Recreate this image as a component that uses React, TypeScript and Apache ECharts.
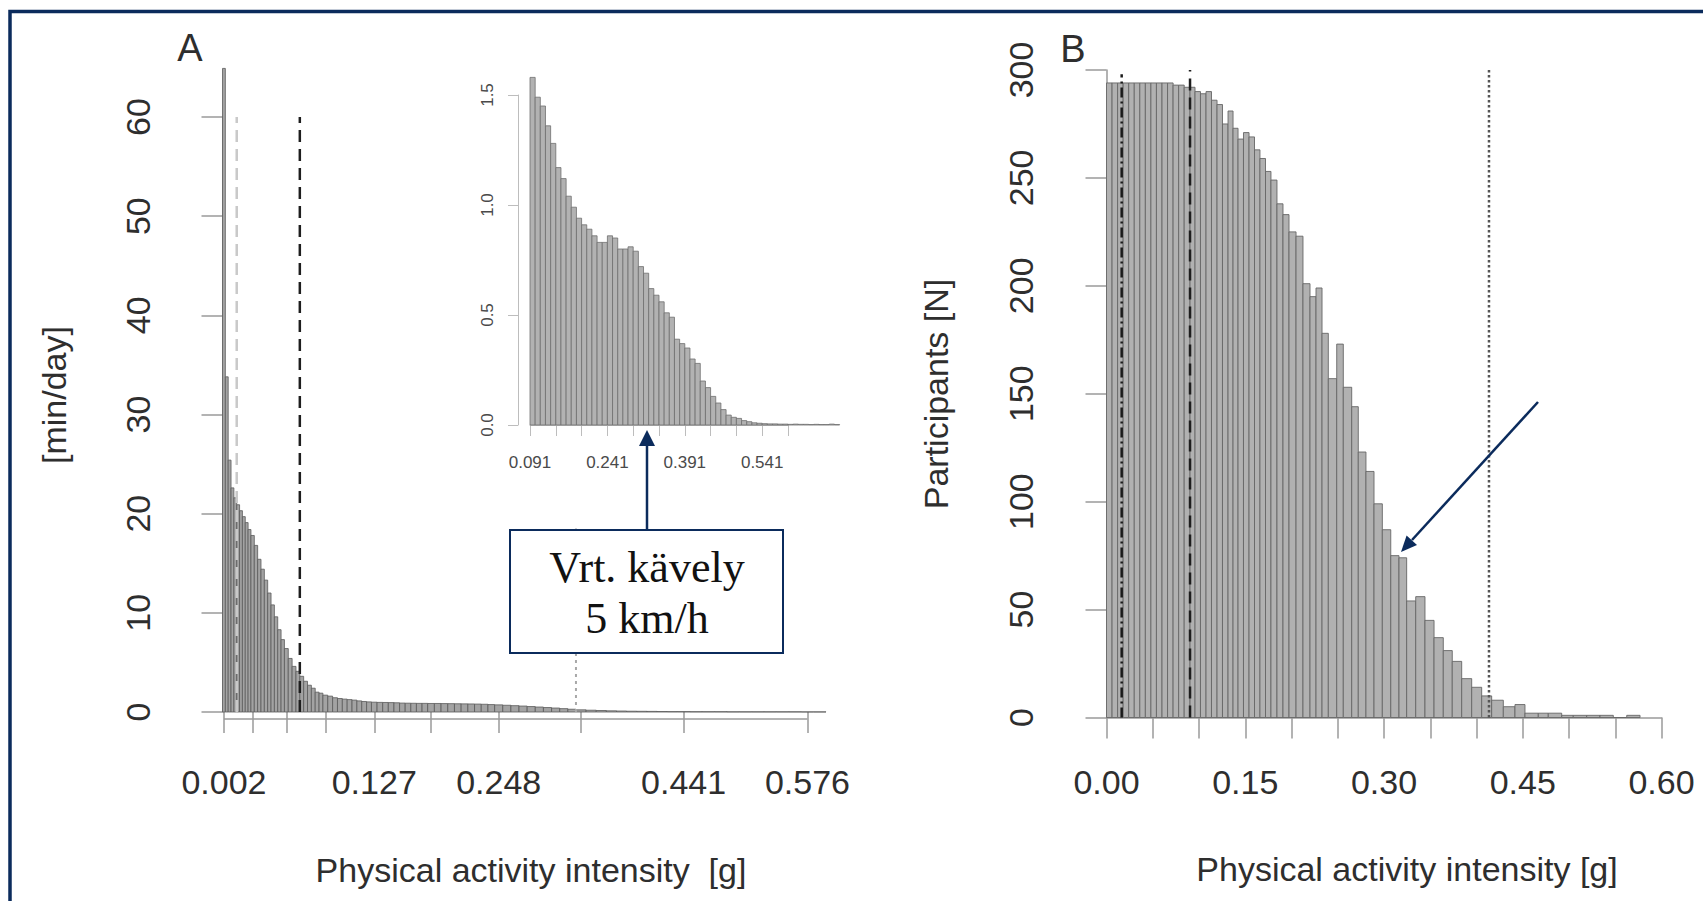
import React, { useEffect, useRef } from "react";
import * as echarts from "echarts";

// ---------------- Panel A (main histogram, bars widen to the right) ----------------
const aGroupWidths = [0.85, 1.0, 1.15, 1.45, 1.68, 2.0, 2.43, 3.03, 3.7, 3.7]; // bar width per group of 10 bars
const aMinutes = [
  64.9, 33.8, 25.4, 22.6, 21.6, 20.9, 20.3, 19.7, 19.1, 18.4,
  17.8, 16.8, 15.4, 14.4, 13.3, 12.0, 10.8, 9.6, 8.3, 7.3,
  6.4, 5.4, 4.6, 4.1, 3.6, 3.1, 2.7, 2.4, 2.0, 1.9,
  1.7, 1.6, 1.44, 1.36, 1.3, 1.25, 1.2, 1.12, 1.06, 1.02,
  0.99, 0.97, 0.96, 0.95, 0.93, 0.9, 0.89, 0.88, 0.87, 0.87,
  0.86, 0.86, 0.85, 0.84, 0.83, 0.82, 0.81, 0.8, 0.78, 0.75,
  0.72, 0.68, 0.64, 0.6, 0.55, 0.5, 0.45, 0.4, 0.34, 0.28,
  0.22, 0.18, 0.15, 0.12, 0.1, 0.08, 0.07, 0.06, 0.05, 0.04,
  0.04, 0.03, 0.03, 0.03, 0.02, 0.02, 0.02, 0.02, 0.02, 0.02,
  0.01, 0.01,
];
const aTickBars = [0, 10, 20, 30, 40, 50, 60, 70, 80, 90];
const aLabelBars = [0, 40, 60, 80, 90];
const aLabelTexts = ["0.002", "0.127", "0.248", "0.441", "0.576"];
const aRefBars = [5, 24, 70]; // reference lines at the left edge of these bars
const aRefTops = [60, 60, 18.5];

// ---------------- Panel A inset ----------------
const insetStart = 0.091;
const insetBin = 0.01;
const insetValues = [
  1.58, 1.49, 1.45, 1.36, 1.28, 1.17, 1.12, 1.04, 0.99, 0.94,
  0.91, 0.89, 0.86, 0.83, 0.83, 0.86, 0.85, 0.8, 0.8, 0.81,
  0.79, 0.72, 0.69, 0.62, 0.59, 0.56, 0.51, 0.49, 0.39, 0.37,
  0.35, 0.3, 0.28, 0.2, 0.17, 0.13, 0.1, 0.07, 0.045, 0.035,
  0.03, 0.02, 0.015, 0.01, 0.008, 0.006, 0.005, 0.005, 0.004, 0.004,
  0.003, 0.004, 0.003, 0.003, 0.002, 0.003, 0.002, 0.002, 0.004, 0.002,
];
const insetTicks = [0.091, 0.141, 0.191, 0.241, 0.291, 0.341, 0.391, 0.441, 0.491, 0.541, 0.591];
const insetLabels = [0.091, 0.241, 0.391, 0.541];

// ---------------- Panel B ----------------
const bEdges = [
  0, 0.006, 0.012, 0.018, 0.024, 0.03, 0.036, 0.042, 0.048, 0.054, 0.06, 0.066, 0.072, 0.078, 0.084,
  0.0903, 0.0957, 0.1016, 0.1076, 0.1135, 0.1195, 0.1254, 0.1314, 0.1368, 0.1422, 0.1481, 0.1541,
  0.16, 0.1659, 0.1719, 0.1778, 0.1843, 0.1908, 0.1973, 0.2049, 0.2124, 0.22, 0.2265, 0.233, 0.2398,
  0.2489, 0.256, 0.2651, 0.2722, 0.2805, 0.2892, 0.2982, 0.3073, 0.3162, 0.3245, 0.3343, 0.3443,
  0.3541, 0.3641, 0.3738, 0.384, 0.3948, 0.4056, 0.4164, 0.429, 0.4416, 0.4524, 0.4668, 0.4776,
  0.4921, 0.5046, 0.5191, 0.5335, 0.5479, 0.5624, 0.5768,
];
const bCounts = [
  294, 294, 294, 294, 294, 294, 294, 294, 294, 294, 294, 294, 293, 293, 292,
  292, 290, 289, 290, 286, 284, 275, 281, 273, 268, 271,
  269, 263, 259, 253, 249, 238, 233, 225, 223, 201, 195, 199, 178,
  157, 173, 153, 144, 123, 114, 99, 87, 75, 74, 54,
  56, 45, 37, 31, 26, 18, 14, 10, 8, 5, 6, 2, 2,
  2, 1, 1, 1, 1, 0, 1,
];
const bRefLines = [0.0164, 0.0903, 0.4135];
const bXTicks = [0, 0.05, 0.1, 0.15, 0.2, 0.25, 0.3, 0.35, 0.4, 0.45, 0.5, 0.55, 0.6];
const bXLabels = [0, 0.15, 0.3, 0.45, 0.6];

// ---------------- derived layout from data ----------------
const aWidths = aMinutes.map((_, i) => aGroupWidths[Math.floor(i / 10)]);
const aEdges: number[] = [0];
aWidths.forEach((w, i) => aEdges.push(aEdges[i] + w));
const aTotal = aEdges[aEdges.length - 1];
const aCenters = aMinutes.map((_, i) => (aEdges[i] + aEdges[i + 1]) / 2);
const aTickPos = aTickBars.map((b) => aCenters[b]);
const aLabelPos = aLabelBars.map((b) => aCenters[b]);

const navy = "#0b2b5c";
const font = "'Liberation Sans', Arial, Helvetica, sans-serif";
const axisGrey = "#9a9a9a";
const labelCol = "#2e2e2e";

function rectRenderer(fill: string, stroke: string, lw: number) {
  return (params: any, api: any) => {
    const x0 = api.value(0);
    const x1 = api.value(1);
    const v = api.value(2);
    const a = api.coord([x0, v]);
    const b = api.coord([x1, 0]);
    return {
      type: "rect",
      shape: { x: a[0], y: a[1], width: b[0] - a[0], height: b[1] - a[1] },
      style: { fill, stroke, lineWidth: lw },
    };
  };
}

function vline(xAxisIndex: number, x: number, top: number, color: string, type: any, width: number) {
  return {
    type: "line",
    xAxisIndex,
    yAxisIndex: xAxisIndex,
    data: [[x, 0], [x, top]],
    symbol: "none",
    silent: true,
    z: 5,
    lineStyle: { color, type, width },
  };
}

function staticGraphics(aAxisLine: number[] | null) {
  const g: any[] = [];
  g.push({
    type: "rect",
    z: 100,
    silent: true,
    shape: { x: 10, y: 11.5, width: 1800, height: 1000 },
    style: { fill: "none", stroke: navy, lineWidth: 3.5 },
  });
  const txt = (text: string, x: number, y: number, size: number, rot = 0, family = font, fill = labelCol) => ({
    type: "text",
    x,
    y,
    rotation: rot,
    silent: true,
    z: 50,
    style: { text, fontSize: size, fontFamily: family, fill, align: "center", verticalAlign: "middle" },
  });
  g.push(txt("A", 190, 48, 38));
  g.push(txt("B", 1073, 49, 38));
  g.push(txt("[min/day]", 54, 395, 34, Math.PI / 2));
  g.push(txt("Participants [N]", 936, 394, 34, Math.PI / 2));
  g.push(txt("Physical activity intensity  [g]", 531, 870, 34));
  g.push(txt("Physical activity intensity [g]", 1407, 869, 34));
  // annotation box (panel A)
  g.push({
    type: "rect",
    z: 60,
    shape: { x: 510, y: 530, width: 273, height: 123 },
    style: { fill: "#ffffff", stroke: navy, lineWidth: 2 },
  });
  g.push(txt("Vrt. kävely", 647, 567, 44, 0, "'Liberation Serif', 'Times New Roman', serif", "#111"));
  g.push(txt("5 km/h", 647, 618, 44, 0, "'Liberation Serif', 'Times New Roman', serif", "#111"));
  g[g.length - 1].z = 61;
  g[g.length - 2].z = 61;
  // arrow A (up into inset)
  g.push({ type: "line", z: 60, shape: { x1: 647, y1: 530, x2: 647, y2: 444 }, style: { stroke: navy, lineWidth: 2.5 } });
  g.push({ type: "polygon", z: 60, shape: { points: [[647, 430], [639, 446], [655, 446]] }, style: { fill: navy } });
  // arrow B
  g.push({ type: "line", z: 60, shape: { x1: 1538, y1: 402, x2: 1412, y2: 540 }, style: { stroke: navy, lineWidth: 2.5 } });
  g.push({ type: "polygon", z: 60, shape: { points: [[1401, 552], [1417, 545], [1406.6, 535.5]] }, style: { fill: navy } });
  if (aAxisLine) {
    g.push({
      type: "line",
      z: 10,
      silent: true,
      shape: { x1: aAxisLine[0], y1: aAxisLine[1], x2: aAxisLine[2], y2: aAxisLine[3] },
      style: { stroke: axisGrey, lineWidth: 1.5 },
    });
  }
  return g;
}

function nearLabel(v: number, pos: number[], texts: string[]) {
  for (let i = 0; i < pos.length; i++) if (Math.abs(pos[i] - v) < 1e-6) return texts[i];
  return "";
}

export default function App() {
  const ref = useRef<HTMLDivElement>(null);
  useEffect(() => {
    if (!ref.current) return;
    const chart = echarts.init(ref.current, undefined, { renderer: "svg" });
    const axisLineStyle = { color: axisGrey, width: 1.5 };
    const insetLine = { color: "#bdbdbd", width: 1 };
    const option: any = {
      animation: false,
      backgroundColor: "#ffffff",
      grid: [
        { left: 222.5, top: 117, width: 603.5, height: 595, outerBoundsMode: "none" },
        { left: 530, top: 95, width: 258, height: 330, outerBoundsMode: "none" },
        { left: 1106.5, top: 70, width: 555, height: 647.5, outerBoundsMode: "none" },
      ],
      xAxis: [
        {
          type: "value",
          gridIndex: 0,
          min: 0,
          max: aTotal,
          offset: 7,
          splitLine: { show: false },
          axisLine: { show: false },
          axisTick: { show: true, length: 21, lineStyle: axisLineStyle, customValues: aTickPos },
          axisLabel: {
            show: true,
            margin: 46,
            fontSize: 34,
            fontFamily: font,
            color: labelCol,
            customValues: aLabelPos,
            formatter: (v: number) => nearLabel(v, aLabelPos, aLabelTexts),
          },
        },
        {
          type: "value",
          gridIndex: 1,
          min: insetTicks[0],
          max: insetTicks[insetTicks.length - 1],
          offset: 3,
          splitLine: { show: false },
          axisLine: { show: true, lineStyle: insetLine },
          axisTick: { show: true, length: 11, lineStyle: insetLine, customValues: insetTicks },
          axisLabel: {
            show: true,
            margin: 26,
            fontSize: 17,
            fontFamily: font,
            color: "#4a4a4a",
            customValues: insetLabels,
            formatter: (v: number) => v.toFixed(3),
          },
        },
        {
          type: "value",
          gridIndex: 2,
          min: 0,
          max: 0.6,
          offset: 2,
          splitLine: { show: false },
          axisLine: { show: true, lineStyle: axisLineStyle },
          axisTick: { show: true, length: 21, lineStyle: axisLineStyle, customValues: bXTicks },
          axisLabel: {
            show: true,
            margin: 45,
            fontSize: 34,
            fontFamily: font,
            color: labelCol,
            customValues: bXLabels,
            formatter: (v: number) => v.toFixed(2),
          },
        },
      ],
      yAxis: [
        {
          type: "value",
          gridIndex: 0,
          min: 0,
          max: 60,
          interval: 10,
          offset: 22,
          splitLine: { show: false },
          axisLine: { show: true, lineStyle: axisLineStyle },
          axisTick: { show: true, length: 21, lineStyle: axisLineStyle },
          axisLabel: { rotate: 90, margin: 46, fontSize: 34, fontFamily: font, color: labelCol },
        },
        {
          type: "value",
          gridIndex: 1,
          min: 0,
          max: 1.5,
          interval: 0.5,
          offset: 12,
          splitLine: { show: false },
          axisLine: { show: true, lineStyle: insetLine },
          axisTick: { show: true, length: 10, lineStyle: insetLine },
          axisLabel: {
            rotate: 90,
            margin: 22,
            fontSize: 17,
            fontFamily: font,
            color: "#4a4a4a",
            formatter: (v: number) => v.toFixed(1),
          },
        },
        {
          type: "value",
          gridIndex: 2,
          min: 0,
          max: 300,
          interval: 50,
          offset: 23,
          splitLine: { show: false },
          axisLine: { show: true, lineStyle: axisLineStyle },
          axisTick: { show: true, length: 21, lineStyle: axisLineStyle },
          axisLabel: { rotate: 90, margin: 46, fontSize: 34, fontFamily: font, color: labelCol },
        },
      ],
      series: [
        {
          type: "custom",
          xAxisIndex: 0,
          yAxisIndex: 0,
          clip: false,
          renderItem: rectRenderer("#a3a3a3", "#5a5a5a", 0.8),
          encode: { x: [0, 1], y: 2 },
          data: aMinutes.map((v, i) => [aEdges[i], aEdges[i + 1], v]),
        },
        {
          type: "custom",
          xAxisIndex: 1,
          yAxisIndex: 1,
          clip: false,
          renderItem: rectRenderer("#b2b2b2", "#6e6e6e", 0.8),
          encode: { x: [0, 1], y: 2 },
          data: insetValues.map((v, i) => [insetStart + i * insetBin, insetStart + (i + 1) * insetBin, v]),
        },
        {
          type: "custom",
          xAxisIndex: 2,
          yAxisIndex: 2,
          clip: false,
          renderItem: rectRenderer("#b1b1b1", "#666666", 0.9),
          encode: { x: [0, 1], y: 2 },
          data: bCounts.map((v, i) => [bEdges[i], bEdges[i + 1], v]),
        },
        vline(0, aEdges[aRefBars[0]], aRefTops[0], "#c9c9c9", [12, 7], 2.5),
        vline(0, aEdges[aRefBars[1]], aRefTops[1], "#1e1e1e", [12, 7], 2.5),
        vline(0, aEdges[aRefBars[2]], aRefTops[2], "#a8a8a8", [3, 4], 2),
        vline(2, bRefLines[0], 298, "#1a1a1a", [10, 4, 2, 4], 2.5),
        vline(2, bRefLines[1], 300, "#1e1e1e", [12, 7], 2.5),
        vline(2, bRefLines[2], 300, "#555555", [2.5, 2.5], 2.5),
      ],
      graphic: staticGraphics(null),
    };
    chart.setOption(option);
    const p0 = chart.convertToPixel({ gridIndex: 0 }, [aCenters[aTickBars[0]], 0]) as number[];
    const p1 = chart.convertToPixel({ gridIndex: 0 }, [aCenters[aTickBars[aTickBars.length - 1]], 0]) as number[];
    chart.setOption({ graphic: staticGraphics([p0[0], p0[1] + 7, p1[0], p1[1] + 7]) });
    return () => chart.dispose();
  }, []);
  return (
    <div
      ref={ref}
      style={{ position: "fixed", left: 0, top: 0, width: 1703, height: 901, background: "#ffffff" }}
    />
  );
}
